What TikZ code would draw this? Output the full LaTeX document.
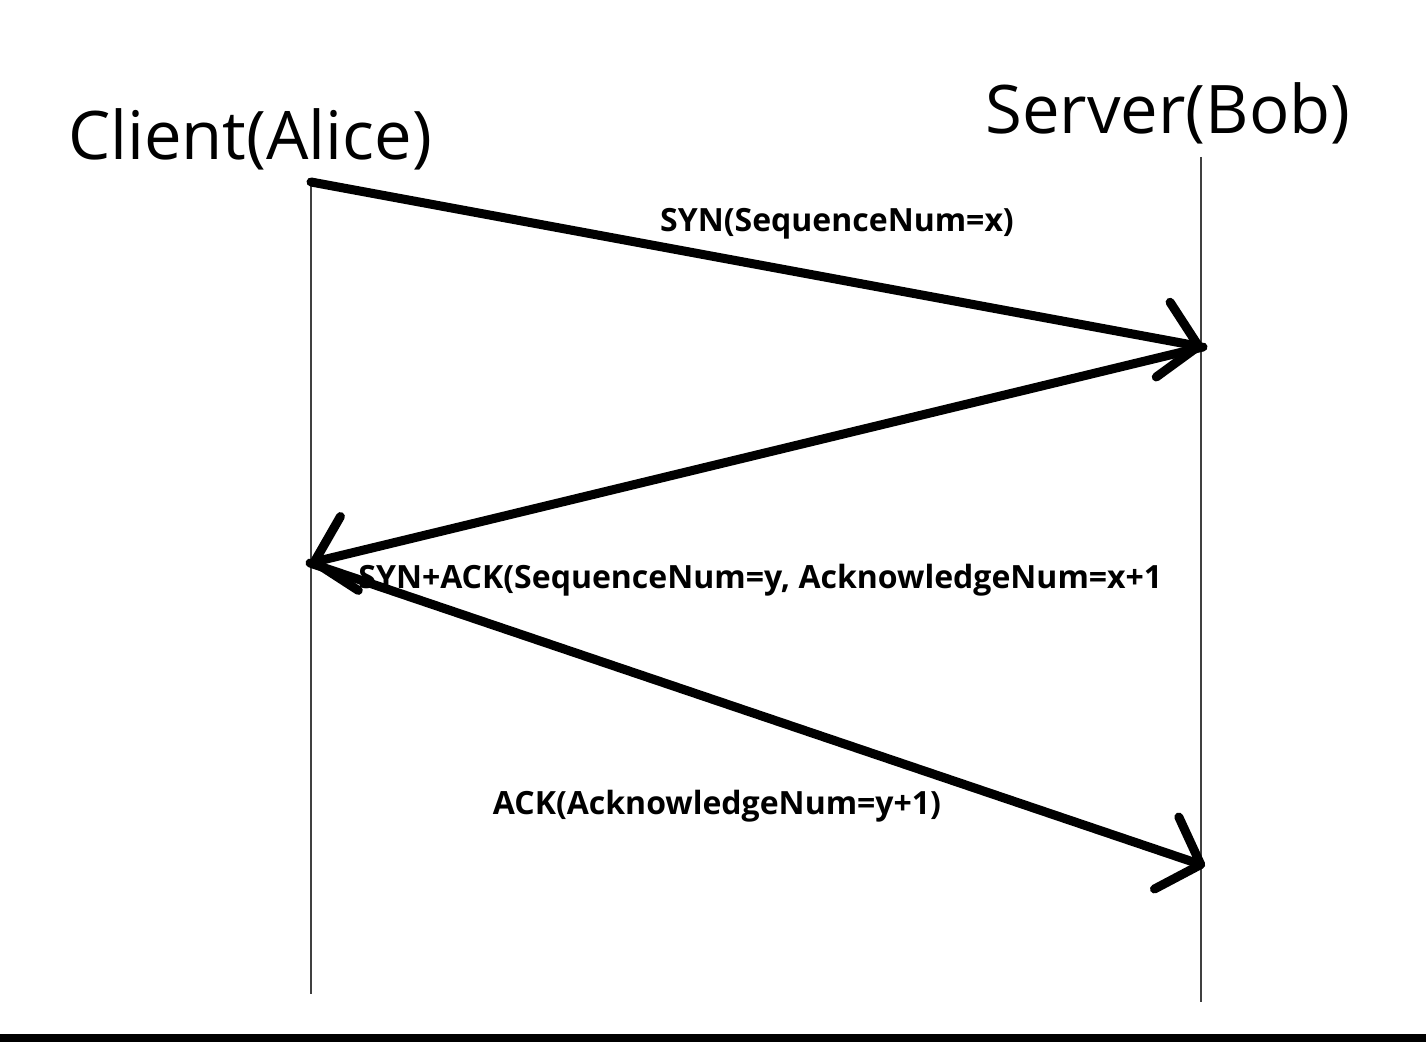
\documentclass[tikz,border=0pt]{standalone}
\usepackage{fontspec}
\setmainfont{Open Sans}
\usepackage{tikz}
\usetikzlibrary{arrows.meta, positioning}

\begin{document}
\begin{tikzpicture}[
      x=0.5pt, y=-0.5pt,
      actor/.style={inner sep=0pt, font=\fontsize{33.5}{37}\selectfont},
      lbl/.style={inner sep=0pt, font=\fontsize{16}{18}\selectfont\bfseries},
      lifeline/.style={line width=1pt, draw=black!75},
      msg/.style={line width=4.5pt, line cap=round, -{Straight Barb[length=18pt, width=38pt, round]}}
    ]
      \useasboundingbox (0,0) rectangle (1426,1042);
      \fill (0,1034) rectangle (1426,1042);

      \node[actor] (alice) at (250,139) {Client(Alice)};
      \node[actor] (bob) at (1168,113) {Server(Bob)};

      \coordinate (a1) at (311,182);
      \coordinate (a2) at (310,563);
      \coordinate (aend) at (311,994);
      \coordinate (b0) at (1201,157);
      \coordinate (b1) at (1203,347);
      \coordinate (b2) at (1205,866);
      \coordinate (bend) at (1201,1002);

      \draw[lifeline] (a1) -- (aend);
      \draw[lifeline] (b0) -- (bend);

      \draw[msg] (a1) -- (b1);
      \draw[msg] (b1) -- (a2);
      \draw[msg] (a2) -- (b2);

      \node[lbl] (syn) at (837,224) {SYN(SequenceNum=x)};
      \node[lbl, anchor=west] (synack) at (358,580) {SYN+ACK(SequenceNum=y, AcknowledgeNum=x+1};
      \node[lbl] (ack) at (717,806) {ACK(AcknowledgeNum=y+1)};
    \end{tikzpicture}
\end{document}
